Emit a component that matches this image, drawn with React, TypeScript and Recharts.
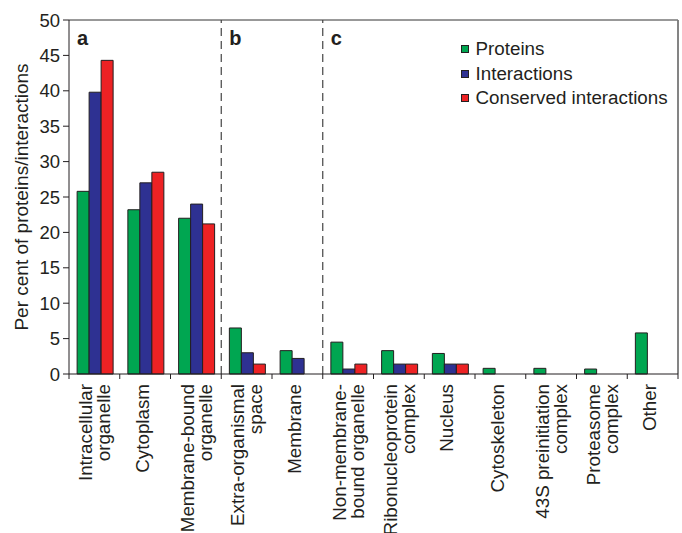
import React from 'react';
import { BarChart, Bar, XAxis, YAxis, ReferenceLine, Legend } from 'recharts';

const categories = [
  'Intracellular\norganelle',
  'Cytoplasm',
  'Membrane-bound\norganelle',
  'Extra-organismal\nspace',
  'Membrane',
  'Non-membrane-\nbound organelle',
  'Ribonucleoprotein\ncomplex',
  'Nucleus',
  'Cytoskeleton',
  '43S preinitiation\ncomplex',
  'Proteasome\ncomplex',
  'Other',
];
const proteins = [25.8, 23.2, 22.0, 6.5, 3.3, 4.5, 3.3, 2.9, 0.8, 0.8, 0.7, 5.8];
const interactions = [39.8, 27.0, 24.0, 3.0, 2.2, 0.7, 1.4, 1.4, 0, 0, 0, 0];
const conserved = [44.3, 28.5, 21.2, 1.4, 0, 1.4, 1.4, 1.4, 0, 0, 0, 0];
const seriesNames = ['Proteins', 'Interactions', 'Conserved interactions'];
const yTicks = [0, 5, 10, 15, 20, 25, 30, 35, 40, 45, 50];
const panelLetters = [
  { at: 0, letter: 'a' },
  { at: 3, letter: 'b' },
  { at: 5, letter: 'c' },
];
const dividers = [3, 5];

const data = categories.map((c, i) => ({
  name: c,
  proteins: proteins[i],
  interactions: interactions[i],
  conserved: conserved[i],
}));

const FONT = '"Liberation Sans", Arial, Helvetica, sans-serif';
const INK = '#231f20';

const CatTick = (props: any) => {
  const { x, y, payload, index } = props;
  const half = payload && typeof payload.offset === 'number' ? payload.offset : 0;
  const lines = String(payload.value).split('\n');
  const n = lines.length;
  const isLast = index === categories.length - 1;
  return (
    <g>
      {half > 0 && <line x1={x - half} x2={x - half} y1={y} y2={y + 5} stroke={INK} strokeWidth={1} />}
      {half > 0 && isLast && <line x1={x + half} x2={x + half} y1={y} y2={y + 5} stroke={INK} strokeWidth={1} />}
      {lines.map((line: string, i: number) => {
        const bx = x + (n === 1 ? 3.5 : -2.2 + i * 18);
        const ty = y + 10;
        return (
          <text
            key={i}
            x={bx}
            y={ty}
            transform={`rotate(-90 ${bx} ${ty})`}
            textAnchor="end"
            fontFamily={FONT}
            fontSize={18.8}
            fill={INK}
          >
            {line}
          </text>
        );
      })}
    </g>
  );
};

const renderLegend = (props: any) => {
  const payload = [...(props.payload || [])].sort(
    (a: any, b: any) => seriesNames.indexOf(a.value) - seriesNames.indexOf(b.value)
  );
  return (
    <ul style={{ listStyle: 'none', margin: 0, padding: 0, fontFamily: FONT, fontSize: 18.8, color: INK }}>
      {payload.map((entry: any, i: number) => (
        <li key={i} style={{ height: 24.5, display: 'flex', alignItems: 'center', whiteSpace: 'nowrap' }}>
          <span
            style={{
              display: 'inline-block',
              width: 8,
              height: 8,
              boxSizing: 'border-box',
              border: `1px solid ${INK}`,
              background: entry.color,
              marginRight: 6.5,
            }}
          />
          <span>{entry.value}</span>
        </li>
      ))}
    </ul>
  );
};

const letterLabel = (letter: string) => (props: any) => {
  const vb = props.viewBox || {};
  return (
    <text x={vb.x + 8} y={vb.y + 25} fontFamily={FONT} fontWeight="bold" fontSize={20} fill={INK}>
      {letter}
    </text>
  );
};

export default function App() {
  return (
    <div style={{ position: 'absolute', left: 0, top: 0 }}>
      <BarChart
        width={682}
        height={533}
        data={data}
        margin={{ top: 20, right: 4, bottom: 158, left: 0 }}
        barCategoryGap="16%"
        barGap={0}
      >
        <XAxis
          dataKey="name"
          type="category"
          height={1}
          interval={0}
          axisLine={{ stroke: INK, strokeWidth: 1 }}
          tickLine={false}
          tickSize={0}
          tickMargin={0}
          tick={<CatTick />}
        />
        <YAxis
          domain={[0, 50]}
          ticks={yTicks}
          width={69}
          tickSize={6}
          tickMargin={3}
          interval={0}
          axisLine={{ stroke: INK, strokeWidth: 1 }}
          tickLine={{ stroke: INK, strokeWidth: 1 }}
          tick={{ fontFamily: FONT, fontSize: 18.5, fill: INK }}
          label={{
            value: 'Per cent of proteins/interactions',
            angle: -90,
            position: 'insideLeft',
            offset: 21,
            style: { textAnchor: 'middle', fontFamily: FONT, fontSize: 19, fill: INK },
          }}
        />
        <ReferenceLine y={50} stroke="#333" strokeWidth={1} />
        <ReferenceLine x={categories[categories.length - 1]} position="end" stroke="#777" strokeWidth={1.8} />
        {dividers.map((d) => (
          <ReferenceLine
            key={d}
            x={categories[d]}
            position="start"
            stroke="#444"
            strokeWidth={1.2}
            strokeDasharray="8 5"
          />
        ))}
        {panelLetters.map((p) => (
          <ReferenceLine
            key={p.letter}
            x={categories[p.at]}
            position="start"
            stroke="none"
            strokeOpacity={0}
            label={letterLabel(p.letter)}
          />
        ))}
        <Legend
          layout="vertical"
          align="center"
          verticalAlign="middle"
          content={renderLegend}
          wrapperStyle={{ left: 461, top: 37, width: 'auto', height: 'auto' }}
        />
        <Bar dataKey="proteins" name={seriesNames[0]} fill="#00a651" stroke={INK} strokeWidth={1} isAnimationActive={false} />
        <Bar dataKey="interactions" name={seriesNames[1]} fill="#2e3192" stroke={INK} strokeWidth={1} isAnimationActive={false} />
        <Bar dataKey="conserved" name={seriesNames[2]} fill="#ed2224" stroke={INK} strokeWidth={1} isAnimationActive={false} />
      </BarChart>
    </div>
  );
}
